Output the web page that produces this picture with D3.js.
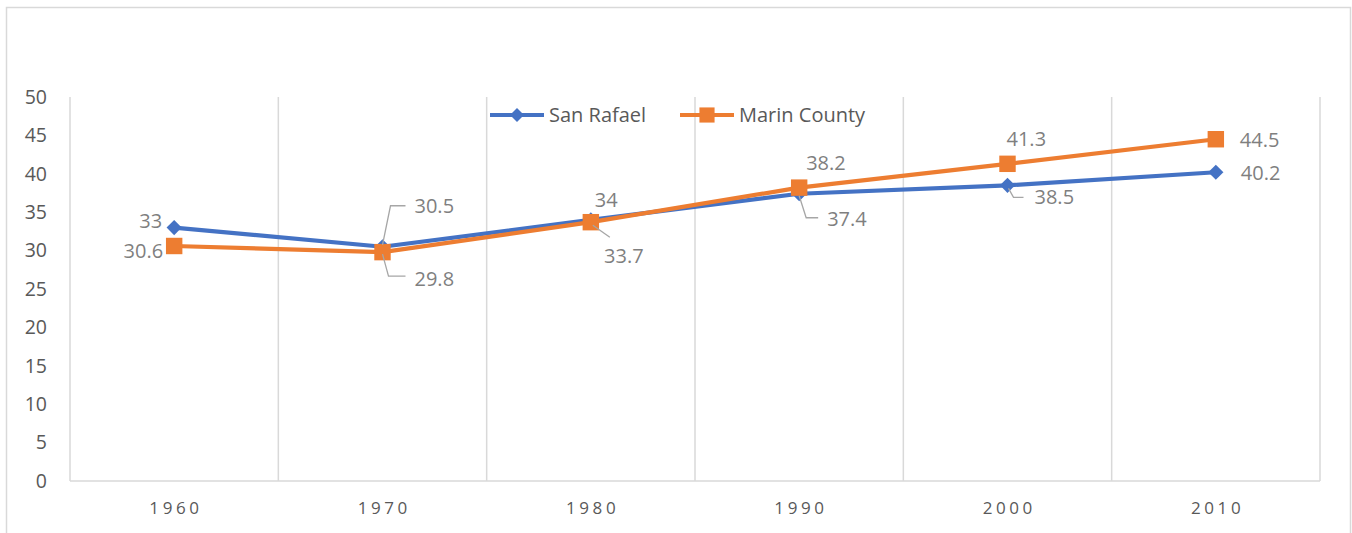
<!DOCTYPE html>
<html>
<head>
<meta charset="UTF-8">
<style>
    body { margin: 0; background: #fff; }
    svg { display: block; font-family: "Open Sans", "Noto Sans", sans-serif; }
    .frame { fill: none; stroke: #d9d9d9; stroke-width: 1.5; }
    .grid line { stroke: #d9d9d9; stroke-width: 1.5; }
    .ytick { fill: #595959; font-size: 19.5px; }
    .xtick { fill: #595959; font-size: 17px; letter-spacing: 3.6px; }
    .dlabel { fill: #7f7f7f; font-size: 20px; }
    .leader { fill: none; stroke: #a6a6a6; stroke-width: 1.3; }
    .legend text { fill: #595959; font-size: 20px; }
</style>
</head>
<body>
<script src="https://cdn.jsdelivr.net/npm/d3@7"></script>
<script>
var years = ["1960", "1970", "1980", "1990", "2000", "2010"];
var sanRafael = [33, 30.5, 34, 37.4, 38.5, 40.2];
var marinCounty = [30.6, 29.8, 33.7, 38.2, 41.3, 44.5];
var yTicks = [0, 5, 10, 15, 20, 25, 30, 35, 40, 45, 50];
var seriesNames = ["San Rafael", "Marin County"];

var width = 1352, height = 533;
var plot = {left: 70, right: 1320, top: 97, bottom: 481};

var svg = d3.select("body").append("svg").attr("width", width).attr("height", height);

svg.append("rect").attr("class", "frame")
    .attr("x", 6.5).attr("y", 7.5).attr("width", 1344).attr("height", 540);

var x = d3.scaleBand().domain(years).range([plot.left, plot.right]);
var y = d3.scaleLinear().domain([0, 50]).range([plot.bottom, plot.top]);
var cx = function(i) { return x(years[i]) + x.bandwidth() / 2; };

// vertical gridlines at category boundaries
var grid = svg.append("g").attr("class", "grid");
var bounds = years.map(function(d) { return x(d); }).concat([plot.right]);
grid.selectAll("line.v").data(bounds).enter().append("line")
    .attr("x1", function(d) { return d; }).attr("x2", function(d) { return d; })
    .attr("y1", plot.top).attr("y2", plot.bottom);
grid.append("line")
    .attr("x1", plot.left).attr("x2", plot.right)
    .attr("y1", plot.bottom).attr("y2", plot.bottom);

svg.selectAll("text.ytick").data(yTicks).enter().append("text")
    .attr("class", "ytick")
    .attr("x", 47).attr("y", function(d) { return y(d); })
    .attr("dy", "0.35em").attr("text-anchor", "end")
    .text(function(d) { return d; });

svg.selectAll("text.xtick").data(years).enter().append("text")
    .attr("class", "xtick")
    .attr("x", function(d, i) { return cx(i) + 1.8; }).attr("y", 514)
    .attr("text-anchor", "middle")
    .text(function(d) { return d; });

var line = d3.line().x(function(d, i) { return cx(i); }).y(function(d) { return y(d); });

var series = [
    {name: seriesNames[0], values: sanRafael, color: "#4472C4", rot: 45, size: 115},
    {name: seriesNames[1], values: marinCounty, color: "#ED7D31", rot: 0, size: 270}
];

series.forEach(function(s) {
    svg.append("path").datum(s.values)
        .attr("fill", "none").attr("stroke", s.color)
        .attr("stroke-width", 4.2).attr("stroke-linejoin", "round")
        .attr("d", line);
    svg.selectAll(null).data(s.values).enter().append("path")
        .attr("transform", function(d, i) { return "translate(" + cx(i) + "," + y(d) + ") rotate(" + s.rot + ")"; })
        .attr("fill", s.color)
        .attr("d", d3.symbol().type(d3.symbolSquare).size(s.size));
});

// data labels: offsets from the point (dx, dy, anchor, leader path relative to point)
var labelPos = [
    [
        {dx: -12, dy: -7, a: "end"},
        {dx: 32, dy: -41, a: "start", lead: [[0, -2], [8, -41], [23, -41]]},
        {dx: 4, dy: -20, a: "start"},
        {dx: 28, dy: 25, a: "start", lead: [[0, 2], [7, 24], [19, 24]]},
        {dx: 27, dy: 12, a: "start", lead: [[1, 3], [6, 12], [16, 12]]},
        {dx: 25, dy: 1, a: "start"}
    ],
    [
        {dx: -11, dy: 5, a: "end"},
        {dx: 32, dy: 27, a: "start", lead: [[0, 2], [6, 24], [23, 24]]},
        {dx: 33, dy: 34, a: "middle", lead: [[2, 3], [19, 15]]},
        {dx: 7, dy: -25, a: "start"},
        {dx: -1, dy: -25, a: "start"},
        {dx: 24, dy: 1, a: "start"}
    ]
];

series.forEach(function(s, k) {
    s.values.forEach(function(v, i) {
        var p = labelPos[k][i], px = cx(i), py = y(v);
        if (p.lead) {
            svg.append("path").attr("class", "leader")
                .attr("d", d3.line()(p.lead.map(function(q) { return [px + q[0], py + q[1]]; })));
        }
        svg.append("text").attr("class", "dlabel")
            .attr("x", px + p.dx).attr("y", py + p.dy)
            .attr("dy", "0.35em").attr("text-anchor", p.a)
            .text(v);
    });
});

// legend
var legendX = [490, 680];
var legend = svg.append("g").attr("class", "legend");
series.forEach(function(s, k) {
    var lx = legendX[k], ly = 115;
    legend.append("line")
        .attr("x1", lx).attr("x2", lx + 54).attr("y1", ly).attr("y2", ly)
        .attr("stroke", s.color).attr("stroke-width", 4);
    legend.append("path")
        .attr("transform", "translate(" + (lx + 27) + "," + ly + ") rotate(" + s.rot + ")")
        .attr("fill", s.color)
        .attr("d", d3.symbol().type(d3.symbolSquare).size(s.size * 0.85));
    legend.append("text")
        .attr("x", lx + 59).attr("y", ly).attr("dy", "0.35em")
        .text(s.name);
});
</script>
</body>
</html>
